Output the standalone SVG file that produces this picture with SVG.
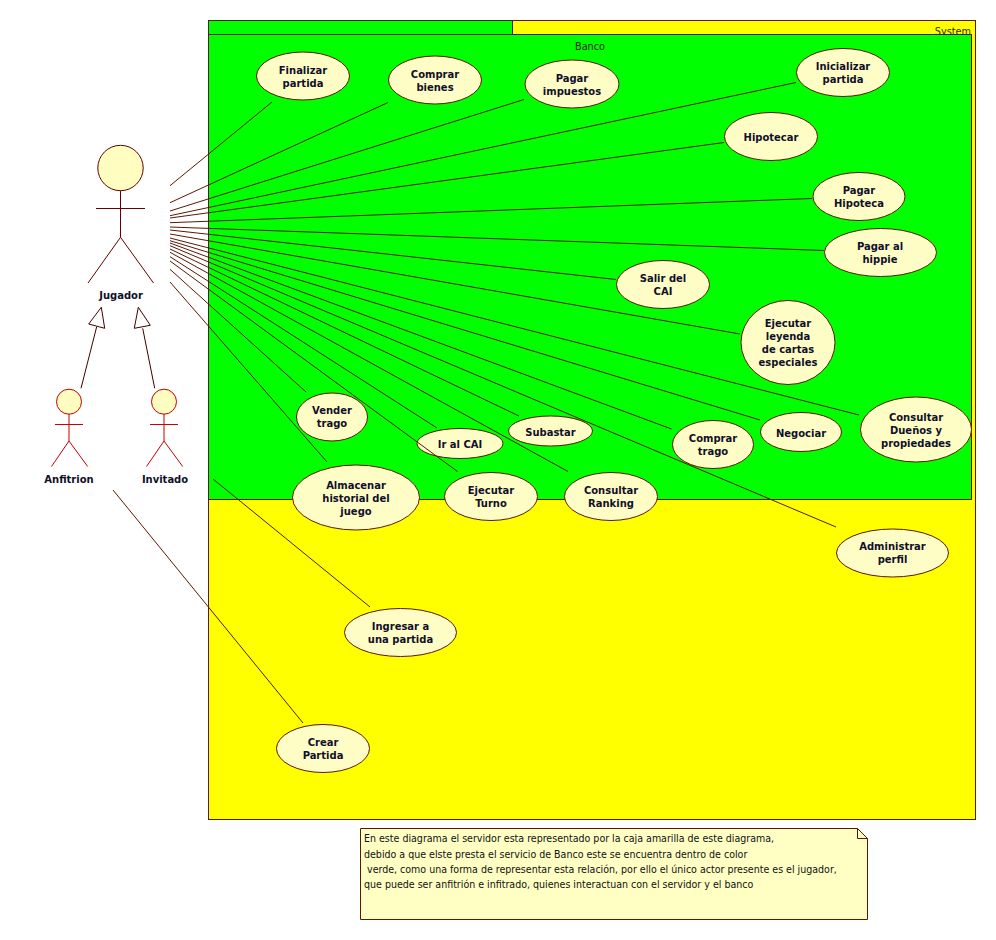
<svg xmlns="http://www.w3.org/2000/svg" width="996" height="940" viewBox="0 0 996 940">
<style>
text{font-family:"DejaVu Sans","Liberation Sans",sans-serif;fill:#10102a;font-stretch:condensed}
.uc ellipse{fill:#fffdc6;stroke:#5c1800;stroke-width:1}
.uc text,.al{font-size:11.1px;font-weight:700;text-anchor:middle}
.box{stroke:#5c1800;stroke-width:1}
.pl{font-size:10.8px;fill:#2a2a10}
.nt{font-size:10.55px;fill:#111}
#connectors line{stroke:#5c1800;stroke-width:1}
.gen{fill:none;stroke:#400000;stroke-width:1}
.tri{fill:#fff;stroke:#400000;stroke-width:1}
.a1 circle{fill:#fffdc0}
.a1 circle,.a1 path{stroke:#640000;stroke-width:1}
.a1 path,.a2 path{fill:none}
.a2 circle{fill:#fffdc0}
.a2 circle,.a2 path{stroke:#c80000;stroke-width:1}
</style>
<rect width="996" height="940" fill="#fff"/>
<g id="system"><rect class="box" x="208.500" y="20.500" width="767" height="799" fill="#ffff00"/><text class="pl" x="971" y="35" text-anchor="end">System</text></g>
<g id="banco"><rect class="box" x="208.500" y="20.500" width="304" height="14" fill="#00ff00"/><rect class="box" x="208.500" y="34.500" width="763" height="465" fill="#00ff00"/><text class="pl" x="590" y="50" text-anchor="middle">Banco</text></g>
<g id="uc-finalizar" class="uc"><ellipse cx="303" cy="76" rx="46.500" ry="24"/><text x="303" y="74">Finalizar</text><text x="303" y="87">partida</text></g>
<g id="uc-comprar-bienes" class="uc"><ellipse cx="435" cy="80" rx="46.500" ry="24"/><text x="435" y="78">Comprar</text><text x="435" y="91">bienes</text></g>
<g id="uc-impuestos" class="uc"><ellipse cx="572" cy="84" rx="47" ry="24"/><text x="572" y="82">Pagar</text><text x="572" y="95">impuestos</text></g>
<g id="uc-inicializar" class="uc"><ellipse cx="843" cy="72.500" rx="46.500" ry="24"/><text x="843" y="70">Inicializar</text><text x="843" y="83">partida</text></g>
<g id="uc-hipotecar" class="uc"><ellipse cx="771" cy="136.500" rx="46.500" ry="24"/><text x="771" y="141">Hipotecar</text></g>
<g id="uc-hipoteca" class="uc"><ellipse cx="859" cy="196.500" rx="46" ry="24"/><text x="859" y="194">Pagar</text><text x="859" y="207">Hipoteca</text></g>
<g id="uc-hippie" class="uc"><ellipse cx="880.500" cy="252.500" rx="56" ry="24"/><text x="880" y="250">Pagar al</text><text x="880" y="263">hippie</text></g>
<g id="uc-salir" class="uc"><ellipse cx="663" cy="284.500" rx="46.500" ry="24"/><text x="663" y="282">Salir del</text><text x="663" y="295">CAI</text></g>
<g id="uc-leyenda" class="uc"><ellipse cx="788" cy="342.500" rx="47" ry="42"/><text x="788" y="327">Ejecutar</text><text x="788" y="340">leyenda</text><text x="788" y="353">de cartas</text><text x="788" y="366">especiales</text></g>
<g id="uc-negociar" class="uc"><ellipse cx="801" cy="432" rx="40.500" ry="19.500"/><text x="801" y="437">Negociar</text></g>
<g id="uc-comprar-trago" class="uc"><ellipse cx="713" cy="444.500" rx="40.500" ry="24"/><text x="713" y="442">Comprar</text><text x="713" y="455">trago</text></g>
<g id="uc-duenos" class="uc"><ellipse cx="916" cy="429.500" rx="55.500" ry="32.500"/><text x="916" y="421">Consultar</text><text x="916" y="434">Dueños y</text><text x="916" y="447">propiedades</text></g>
<g id="uc-administrar" class="uc"><ellipse cx="892.500" cy="553" rx="56" ry="24"/><text x="892.500" y="550">Administrar</text><text x="892.500" y="563">perfil</text></g>
<g id="uc-subastar" class="uc"><ellipse cx="550.500" cy="431" rx="42" ry="15"/><text x="550.500" y="436">Subastar</text></g>
<g id="uc-ir-cai" class="uc"><ellipse cx="460" cy="443.500" rx="43" ry="15"/><text x="460" y="448">Ir al CAI</text></g>
<g id="uc-vender" class="uc"><ellipse cx="332" cy="417" rx="35.500" ry="24"/><text x="332" y="414">Vender</text><text x="332" y="427">trago</text></g>
<g id="uc-almacenar" class="uc"><ellipse cx="356" cy="497.500" rx="63.500" ry="32.500"/><text x="356" y="489">Almacenar</text><text x="356" y="502">historial del</text><text x="356" y="515">juego</text></g>
<g id="uc-turno" class="uc"><ellipse cx="491" cy="496.500" rx="46.500" ry="24"/><text x="491" y="494">Ejecutar</text><text x="491" y="507">Turno</text></g>
<g id="uc-ranking" class="uc"><ellipse cx="611" cy="496.500" rx="46.500" ry="24"/><text x="611" y="494">Consultar</text><text x="611" y="507">Ranking</text></g>
<g id="uc-ingresar" class="uc"><ellipse cx="400.500" cy="632.500" rx="56" ry="24"/><text x="400.500" y="630">Ingresar a</text><text x="400.500" y="643">una partida</text></g>
<g id="uc-crear" class="uc"><ellipse cx="323" cy="748.500" rx="46.500" ry="24"/><text x="323" y="746">Crear</text><text x="323" y="759">Partida</text></g>
<g id="jugador" class="a1"><circle cx="120.500" cy="168" r="22.700"/><path d="M120.500 190.700V237.300M96 208.500H145M88 283L120.500 237.300L153.500 283"/><text class="al" x="121" y="299">Jugador</text></g>
<g id="anfitrion" class="a2"><circle cx="69" cy="401.700" r="12.500"/><path d="M69 414V441M55 424.500H83M51.500 466.500L69 441L87.700 466.500"/><text class="al" x="69" y="483">Anfitrion</text></g>
<g id="invitado" class="a2"><circle cx="164" cy="401.700" r="12.500"/><path d="M164 414V441M150 424.500H178M146.500 466.500L164 441L182.700 466.500"/><text class="al" x="165" y="483">Invitado</text></g>
<g id="note"><path class="box" d="M360.500 828.500H857.500L867.500 838.500V919.500H360.500Z" fill="#ffffc4"/><path class="box" d="M857.500 828.500V838.500H867.500" fill="none"/>
<text class="nt" x="364" y="842">En este diagrama el servidor esta representado por la caja amarilla de este diagrama,</text>
<text class="nt" x="364" y="858">debido a que elste presta el servicio de Banco este se encuentra dentro de color</text>
<text class="nt" x="364" y="873" xml:space="preserve"> verde, como una forma de representar esta relación, por ello el único actor presente es el jugador,</text>
<text class="nt" x="364" y="888">que puede ser anfitrión e infitrado, quienes interactuan con el servidor y el banco</text></g>
<g id="connectors">
<line x1="170" y1="185.700" x2="272" y2="102"/>
<line x1="170" y1="202.700" x2="388" y2="102.500"/>
<line x1="170" y1="211" x2="524" y2="99.500"/>
<line x1="170" y1="215.700" x2="796" y2="82.500"/>
<line x1="170" y1="218" x2="724" y2="142.500"/>
<line x1="170" y1="222.700" x2="812" y2="198.500"/>
<line x1="170" y1="227" x2="824" y2="250.500"/>
<line x1="170" y1="230" x2="616" y2="279.500"/>
<line x1="170" y1="234" x2="740" y2="334"/>
<line x1="170" y1="238" x2="859" y2="415"/>
<line x1="170" y1="240.700" x2="760" y2="420"/>
<line x1="170" y1="243" x2="671.500" y2="429"/>
<line x1="170" y1="245.700" x2="836" y2="527"/>
<line x1="170" y1="249" x2="519" y2="416"/>
<line x1="170" y1="252.300" x2="568" y2="471.500"/>
<line x1="170" y1="256.700" x2="437" y2="428"/>
<line x1="170" y1="261" x2="457.500" y2="471.500"/>
<line x1="170" y1="269.300" x2="306" y2="392"/>
<line x1="170" y1="282" x2="327" y2="462"/>
<line x1="213" y1="479" x2="370" y2="607"/>
<line x1="113" y1="490" x2="303" y2="723"/>
<path class="gen" d="M81 388.300L96.700 326.700"/>
<path class="tri" d="M101.300 307.300L88.700 324L104.700 328.300Z"/>
<path class="gen" d="M154.700 388.300L142.700 328.300"/>
<path class="tri" d="M138.300 307.300L134.300 328.300L150.300 325.300Z"/>
</g>
</svg>
